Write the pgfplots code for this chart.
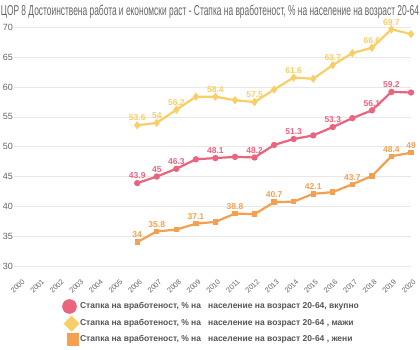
\documentclass[border=0pt]{standalone}
\usepackage{pgfplots}
\pgfplotsset{compat=1.18}
\usepackage{fontspec}
\setmainfont{Liberation Sans}
\definecolor{cpink}{RGB}{234,100,126}
\definecolor{cyel}{RGB}{248,206,102}
\definecolor{corg}{RGB}{245,160,80}
\definecolor{tgray}{RGB}{100,100,100}
\definecolor{lgray}{RGB}{85,85,85}
\begin{document}
\begin{tikzpicture}[x=1pt,y=1pt]
\path[use as bounding box] (0,0) rectangle (420,350);
\node[anchor=north, inner sep=0pt, text=tgray] at (210,347) {\resizebox{418pt}{12pt}{\strut ЦОР 8 Достоинствена работа и економски раст - Стапка на вработеност, \% на население на возраст 20-64}};
\begin{axis}[
  at={(14pt,84pt)}, anchor=south west,
  scale only axis, width=397pt, height=238.5pt,
  xmin=1999.7, xmax=2020, ymin=30, ymax=70,
  axis line style={draw=none},
  clip=false,
  ytick={30,35,...,70},
  xtick={2000,...,2020},
  ymajorgrids, grid style={draw=black!9, line width=0.8pt},
  major tick length=0pt,
  /pgf/number format/assume math mode=true,
  xticklabel={\pgfmathprintnumber[set thousands separator={}]{\tick}},
  x tick label style={rotate=45, anchor=north east, font=\fontsize{7.3}{8}\selectfont, text=tgray, inner sep=0pt, xshift=-7.5pt, yshift=-10pt},
  y tick label style={font=\fontsize{9}{10}\selectfont, text=tgray, anchor=east, inner sep=1pt, xshift=0pt},
  legend style={at={(48pt,-33pt)}, anchor=north west, draw=none, fill=none,
     font=\bfseries\fontsize{8.5}{10}\selectfont, text=lgray, row sep=2.2pt, inner sep=0pt,
     nodes={inner xsep=1pt}},
  legend cell align=left,
  every node near coord/.append style={font=\bfseries\fontsize{8.5}{9}\selectfont, anchor=south, yshift=3pt, inner sep=1pt},
]
\addplot[cpink, line width=2.2pt, mark=*, mark size=2pt,
  legend image code/.code={\fill[cpink] (6.5pt,0pt) circle (6.2pt);}]
 coordinates {(2006,43.9)(2007,45.0)(2008,46.3)(2009,47.9)(2010,48.1)(2011,48.3)(2012,48.2)(2013,50.3)(2014,51.3)(2015,51.9)(2016,53.3)(2017,54.8)(2018,56.1)(2019,59.2)(2020,59.1)};
\addlegendentry{Стапка на вработеност, \% на \ \ население на возраст 20-64, вкупно}
\addplot[cyel, line width=2.2pt, mark=diamond*, mark size=2.4pt,
  legend image code/.code={\fill[cyel] (8.5pt,-6.5pt) -- (15pt,0pt) -- (8.5pt,6.5pt) -- (2pt,0pt) -- cycle;}]
 coordinates {(2006,53.6)(2007,54.0)(2008,56.2)(2009,58.4)(2010,58.4)(2011,57.8)(2012,57.5)(2013,59.6)(2014,61.6)(2015,61.4)(2016,63.7)(2017,65.7)(2018,66.6)(2019,69.7)(2020,68.9)};
\addlegendentry{Стапка на вработеност, \% на \ \ население на возраст 20-64 , мажи}
\addplot[corg, line width=2.2pt, mark=square*, mark size=1.6pt,
  legend image code/.code={\fill[corg] (5pt,-5pt) rectangle (15pt,5pt);}]
 coordinates {(2006,34.0)(2007,35.8)(2008,36.1)(2009,37.1)(2010,37.4)(2011,38.8)(2012,38.7)(2013,40.7)(2014,40.8)(2015,42.1)(2016,42.4)(2017,43.7)(2018,45.1)(2019,48.4)(2020,49.0)};
\addlegendentry{Стапка на вработеност, \% на \ \ население на возраст 20-64 , жени}
% data labels
\addplot[draw=none, mark=none, forget plot, nodes near coords, every node near coord/.append style={text=cpink}]
 coordinates {(2006,43.9)(2007,45.0)(2008,46.3)(2010,48.1)(2012,48.2)(2014,51.3)(2016,53.3)(2018,56.1)(2019,59.2)};
\addplot[draw=none, mark=none, forget plot, nodes near coords, every node near coord/.append style={text=cyel}]
 coordinates {(2006,53.6)(2007,54.0)(2008,56.2)(2010,58.4)(2012,57.5)(2014,61.6)(2016,63.7)(2018,66.6)(2019,69.7)};
\addplot[draw=none, mark=none, forget plot, nodes near coords, every node near coord/.append style={text=corg}]
 coordinates {(2006,34.0)(2007,35.8)(2009,37.1)(2011,38.8)(2013,40.7)(2015,42.1)(2017,43.7)(2019,48.4)(2020,49.0)};
\end{axis}
\end{tikzpicture}
\end{document}
